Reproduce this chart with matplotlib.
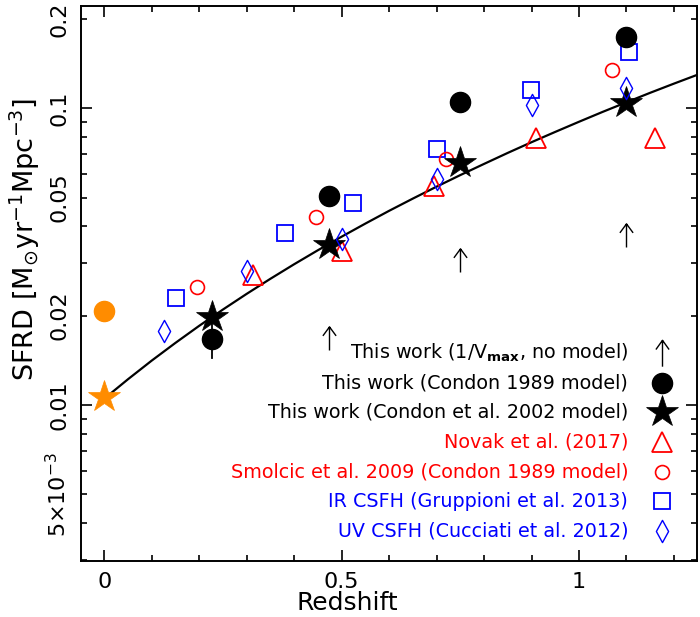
import matplotlib
matplotlib.use('Agg')
import matplotlib.pyplot as plt
from matplotlib.path import Path
from matplotlib.ticker import FixedLocator, FuncFormatter, LogLocator, MultipleLocator
import numpy as np

plt.rcParams['font.family'] = ['DejaVu Sans']
plt.rcParams['mathtext.default'] = 'regular'

# ---------------- data ----------------
# This work, Condon 1989 model (filled circles)
z_bins = [0.227, 0.474, 0.749, 1.099]
sfrd_c89 = [0.01665, 0.0507, 0.1048, 0.174]
sfrd_c89_lo = [0.0144, None, None, None]
sfrd_c89_hi = [0.0189, None, None, None]
# This work, Condon et al. 2002 model (filled stars)
sfrd_c02 = [0.01975, 0.0346, 0.0653, 0.1044]
# This work, 1/Vmax no model (lower limits, arrows)
z_vmax = [0.474, 0.749, 1.099]
sfrd_vmax = [0.0153, 0.0281, 0.0340]
# local points (orange)
z_local = [0.0]
sfrd_local_c89 = [0.0208]
sfrd_local_c02 = [0.0106]
# Novak et al. 2017 (open triangles)
z_novak = [0.313, 0.501, 0.695, 0.909, 1.160]
sfrd_novak = [0.0274, 0.0331, 0.0548, 0.0792, 0.0792]
# Smolcic et al. 2009 (open circles)
z_smolcic = [0.196, 0.446, 0.719, 1.069]
sfrd_smolcic = [0.0249, 0.0431, 0.0673, 0.1346]
# Gruppioni et al. 2013 IR CSFH (open squares)
z_grup = [0.151, 0.381, 0.525, 0.700, 0.899, 1.105]
sfrd_grup = [0.0229, 0.0381, 0.0479, 0.0727, 0.1153, 0.155]
# Cucciati et al. 2012 UV CSFH (open diamonds)
z_cucc = [0.126, 0.300, 0.501, 0.700, 0.900, 1.099]
sfrd_cucc = [0.01776, 0.0283, 0.0363, 0.0578, 0.1026, 0.1168]
# model curve
z_curve = [0.0, 0.05, 0.1, 0.15, 0.2, 0.25, 0.3, 0.35, 0.4, 0.45, 0.5, 0.55,
           0.6, 0.65, 0.7, 0.75, 0.8, 0.85, 0.9, 0.95, 1.0, 1.05, 1.1, 1.15,
           1.2, 1.25, 1.3]
sfrd_curve = [0.0105, 0.01221, 0.01411, 0.01619, 0.01848, 0.02097, 0.02368,
              0.02662, 0.0298, 0.03322, 0.0369, 0.04085, 0.0451, 0.04959,
              0.0544, 0.05951, 0.0649, 0.0707, 0.0768, 0.0832, 0.0900, 0.0972,
              0.1047, 0.1127, 0.1210, 0.1297, 0.1389]

legend_labels = [r'This work (1/V$_{\mathbf{max}}$, no model)',
                 'This work (Condon 1989 model)',
                 'This work (Condon et al. 2002 model)',
                 'Novak et al. (2017)',
                 'Smolcic et al. 2009 (Condon 1989 model)',
                 'IR CSFH (Gruppioni et al. 2013)',
                 'UV CSFH (Cucciati et al. 2012)']
legend_colors = ['black', 'black', 'black', 'red', 'red', 'blue', 'blue']

x_ticks = [0, 0.5, 1]
x_ticklabels = ['0', '0.5', '1']

# ---------------- figure ----------------
W, H = 700, 617
fig = plt.figure(figsize=(W / 100, H / 100), dpi=100)
L, R, T, B = 81, 696.7, 6, 561
ax = fig.add_axes([L / W, 1 - B / H, (R - L) / W, (B - T) / H])

# arrow marker: base at data point, tip above
arrow_up = Path([(0, 0), (0, 1), (-0.28, 0.62), (0, 1), (0.28, 0.62)],
                [Path.MOVETO, Path.LINETO, Path.MOVETO, Path.LINETO, Path.LINETO])
arrow_leg = Path([(0, -1), (0, 1), (-0.5, 0.3), (0, 1), (0.5, 0.3)],
                 [Path.MOVETO, Path.LINETO, Path.MOVETO, Path.LINETO, Path.LINETO])
diamond = Path([(0, 1), (0.55, 0), (0, -1), (-0.55, 0), (0, 1)],
               [Path.MOVETO, Path.LINETO, Path.LINETO, Path.LINETO, Path.CLOSEPOLY])

ax.plot(z_curve, sfrd_curve, color='black', lw=1.6, zorder=2,
        solid_joinstyle='round')

st = dict(linestyle='none')
sq_style = dict(marker='s', ms=12, mfc='none', mec='blue', mew=1.3)
tri_style = dict(marker='^', ms=14, mfc='none', mec='red', mew=1.3)
oc_style = dict(marker='o', ms=10, mfc='none', mec='red', mew=1.2)
bc_style = dict(marker='o', ms=14.5, mfc='black', mec='black')
star_style = dict(marker='*', ms=24, mfc='black', mec='black', mew=0.5)
dia_style = dict(marker=diamond, ms=16, mfc='none', mec='blue', mew=1.0)
arr_style = dict(marker=arrow_up, ms=34, mfc='none', mec='black', mew=1.0)
arrl_style = dict(marker=arrow_leg, ms=19, mfc='none', mec='black', mew=1.0)

ax.plot(z_grup, sfrd_grup, zorder=3, **st, **sq_style)
ax.plot(z_novak, sfrd_novak, zorder=3, **st, **tri_style)
ax.plot(z_smolcic, sfrd_smolcic, zorder=3, **st, **oc_style)
# error bar on first circle
for z, lo, hi in zip(z_bins, sfrd_c89_lo, sfrd_c89_hi):
    if lo is not None:
        ax.plot([z, z], [lo, hi], color='black', lw=1.3, zorder=4)
ax.plot(z_bins, sfrd_c89, zorder=4, **st, **bc_style)
ax.plot(z_local, sfrd_local_c89, zorder=4, **st, **dict(bc_style, mfc='darkorange', mec='darkorange'))
ax.plot(z_bins, sfrd_c02, zorder=5, **st, **star_style)
ax.plot(z_local, sfrd_local_c02, zorder=5, **st, **dict(star_style, mfc='darkorange', mec='darkorange'))
ax.plot(z_cucc, sfrd_cucc, zorder=6, **st, **dia_style)
ax.plot(z_vmax, sfrd_vmax, zorder=6, **st, **arr_style)

# ---------------- axes ----------------
ax.set_yscale('log')
ax.set_xlim(-0.049, 1.248)
ax.set_ylim(0.00298, 0.221)

ax.xaxis.set_major_locator(FixedLocator(x_ticks))
ax.set_xticklabels(x_ticklabels)
ax.xaxis.set_minor_locator(MultipleLocator(0.1))

ax.yaxis.set_major_locator(LogLocator(base=10, subs=(1.0,)))
ax.yaxis.set_minor_locator(LogLocator(base=10, subs=np.arange(2, 10)))
lab = {0.2: '0.2', 0.1: '0.1', 0.05: '0.05', 0.02: '0.02', 0.01: '0.01',
       0.005: r'5$\times$10$^{-3}$'}

def yfmt(v, pos):
    for k, s in lab.items():
        if abs(v - k) / k < 1e-6:
            return s
    return ''

ax.yaxis.set_major_formatter(FuncFormatter(yfmt))
ax.yaxis.set_minor_formatter(FuncFormatter(yfmt))

for s in ax.spines.values():
    s.set_linewidth(1.4)
ax.tick_params(which='both', direction='in', top=True, right=True, width=1.2,
               labelsize=16)
ax.tick_params(which='major', length=8)
ax.tick_params(which='minor', length=4.3)
ax.tick_params(axis='x', which='both', pad=8)
ax.tick_params(axis='y', which='both', labelrotation=90, pad=8)
for t in ax.get_yticklabels(which='both'):
    t.set_va('center')

ax.set_xlabel('Redshift', fontsize=18, va='baseline')
ax.xaxis.set_label_coords(0.432, (B - 610) / (B - T))
ax.set_ylabel(r'SFRD [M$_{\odot}$yr$^{-1}$Mpc$^{-3}$]', fontsize=19.5)
ax.yaxis.set_label_coords((42 - L) / (R - L), (B - 239) / (B - T))

# ---------------- legend (manual, right-aligned) ----------------
leg_styles = [arrl_style, bc_style, star_style, tri_style, oc_style, sq_style, dia_style]
row0, drow = 353.3, 29.55
for i, (txt, col, sty) in enumerate(zip(legend_labels, legend_colors, leg_styles)):
    py = row0 + i * drow
    ya = (B - py) / (B - T)
    ax.text((628.3 - L) / (R - L), ya, txt, color=col, fontsize=13.8,
            ha='right', va='center', transform=ax.transAxes)
    ax.plot([(661.7 - L) / (R - L)], [ya], transform=ax.transAxes,
            clip_on=False, linestyle='none', **sty)

fig.savefig('out.png', dpi=100)
